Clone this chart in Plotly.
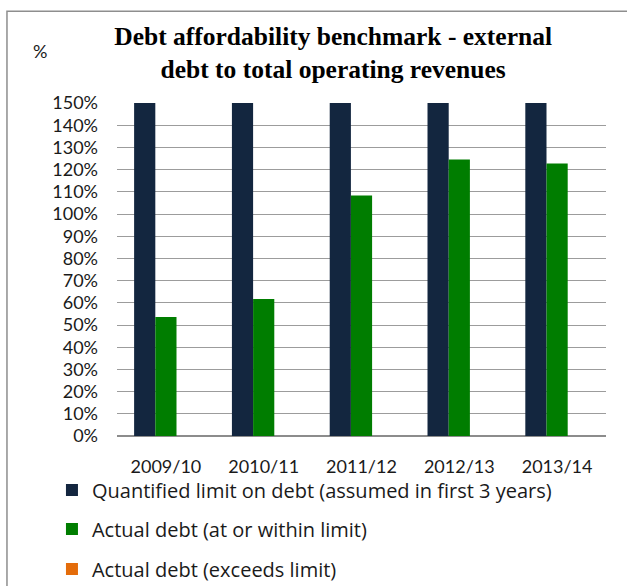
import plotly.graph_objects as go

# Financial years on the category axis
years = ["2009/10", "2010/11", "2011/12", "2012/13", "2013/14"]

# Debt as a percentage of total operating revenues
limit_on_debt = [150, 150, 150, 150, 150]
actual_within_limit = [53.6, 61.7, 108.3, 124.6, 122.7]
actual_exceeds_limit = [None, None, None, None, None]

series_names = [
    "Quantified limit on debt (assumed in first 3 years)",
    "Actual debt (at or within limit)",
    "Actual debt (exceeds limit)",
]
series_colors = ["#13263F", "#007D00", "#E46C0A"]
legend_ids = ["legend", "legend2", "legend3"]
# vertical centre of each legend entry: (reference frame, position)
legend_rows = [("paper", -0.162), ("paper", -0.279), ("container", 0.029)]

y_ticks = list(range(0, 151, 10))

fig = go.Figure()
for name, values, color, lid in zip(
    series_names,
    [limit_on_debt, actual_within_limit, actual_exceeds_limit],
    series_colors,
    legend_ids,
):
    fig.add_trace(
        go.Bar(
            x=years,
            y=values,
            name=name,
            legend=lid,
            marker=dict(color=color, line=dict(width=0)),
        )
    )

axis_font = dict(family="Lato, sans-serif", size=18, color="#1a1a1a")
legend_font = dict(family="Open Sans, sans-serif", size=20, color="#1a1a1a")

legend_layouts = {
    lid: dict(
        orientation="v",
        x=-0.133,
        xref="paper",
        xanchor="left",
        y=row,
        yref=ref,
        yanchor="middle",
        font=legend_font,
        itemwidth=30,
        bgcolor="rgba(0,0,0,0)",
    )
    for lid, (ref, row) in zip(legend_ids, legend_rows)
}

fig.update_layout(
    width=627,
    height=586,
    margin=dict(l=117, r=21, t=103, b=150),
    paper_bgcolor="white",
    plot_bgcolor="white",
    barmode="group",
    bargap=0.35,
    bargroupgap=0,
    showlegend=True,
    **legend_layouts,
    title=dict(
        text="Debt affordability benchmark - external<br>debt to total operating revenues",
        x=0.442,
        xref="paper",
        xanchor="center",
        y=0.924,
        yref="container",
        yanchor="middle",
        font=dict(family="Liberation Serif, Times New Roman, serif", size=25.5, color="black", weight="bold"),
    ),
    xaxis=dict(
        type="category",
        tickfont=axis_font,
        showgrid=False,
        showline=False,
        ticks="",
        ticklabelstandoff=18,
    ),
    yaxis=dict(
        range=[0, 150],
        tickvals=y_ticks,
        ticktext=[f"{v}%" for v in y_ticks],
        tickfont=axis_font,
        showgrid=True,
        gridcolor="#9C9C9C",
        gridwidth=1.3,
        zeroline=True,
        zerolinecolor="#8C8C8C",
        zerolinewidth=2,
        showline=False,
        ticks="",
        ticklabelstandoff=18,
    ),
    annotations=[
        dict(
            text="%",
            xref="paper",
            yref="paper",
            x=-0.158,
            y=1.155,
            xanchor="center",
            yanchor="middle",
            showarrow=False,
            font=dict(family="Lato, sans-serif", size=18, color="#1a1a1a"),
        )
    ],
    shapes=[
        # frame around the chart area (open at the right and bottom edges)
        dict(
            type="rect",
            xref="paper",
            yref="paper",
            x0=-0.225,
            x1=1.6,
            y0=-1.5,
            y1=1.2755,
            line=dict(color="#8E8E8E", width=1.5),
            fillcolor="rgba(0,0,0,0)",
            layer="below",
        )
    ],
)

fig.write_html("out.html")
